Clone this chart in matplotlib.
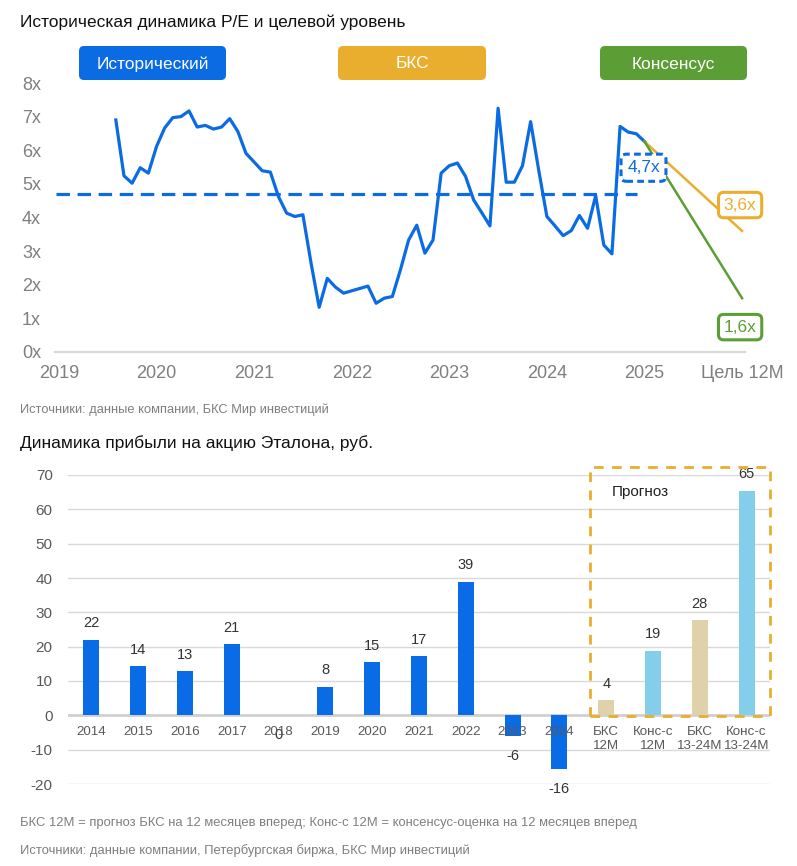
#!/usr/bin/env python3
"""
P/E history + EPS bars for Etalon (two panels, one figure)
"""

import matplotlib.pyplot as plt
import pandas as pd
from matplotlib.patches import FancyBboxPatch, Rectangle

plt.rcParams['font.family'] = ['Liberation Sans', 'DejaVu Sans']
plt.rcParams['axes.unicode_minus'] = False

# --- data: P/E history (monthly, from Aug 2019) ---
pe_start = '2019-08'
pe_values = [6.9, 5.24, 5.02, 5.48, 5.32, 6.11, 6.66, 6.97, 7.0, 7.17, 6.69, 6.74,
             6.63, 6.69, 6.94, 6.56, 5.91, 5.65, 5.39, 5.35, 4.62, 4.13, 4.03, 4.08,
             2.65, 1.33, 2.19, 1.93, 1.75, 1.82, 1.89, 1.96, 1.45, 1.60, 1.65, 2.45,
             3.33, 3.77, 2.94, 3.33, 5.32, 5.54, 5.62, 5.22, 4.52, 4.14, 3.75, 7.25,
             5.05, 5.05, 5.54, 6.85, 5.4, 4.03, 3.75, 3.46, 3.61, 4.06, 3.68, 4.65,
             3.18, 2.92, 6.71, 6.54, 6.49, 6.26]
pe_mean = 4.7
target_bcs = 3.6
target_cons = 1.6
year_ticks = [2019, 2020, 2021, 2022, 2023, 2024, 2025, 2026]
year_labels = ['2019', '2020', '2021', '2022', '2023', '2024', '2025', 'Цель 12M']

# --- data: EPS, rub ---
eps_labels = ['2014', '2015', '2016', '2017', '2018', '2019', '2020', '2021', '2022',
              '2023', '2024', 'БКС\n12М', 'Конс-с\n12М', 'БКС\n13-24М', 'Конс-с\n13-24М']
eps_values = [21.9, 14.3, 12.8, 20.7, 0.0, 8.2, 15.4, 17.2, 38.8, -6.1, -15.7,
              4.4, 18.7, 27.7, 65.3]
eps_kind = ['hist'] * 11 + ['bcs', 'cons', 'bcs', 'cons']

BLUE = '#0B6BE3'
YELLOW = '#EAAE2E'
GREEN = '#5B9E35'
GRAY = '#7F7F7F'
kind_color = {'hist': '#0A6BE6', 'bcs': '#DFD1A9', 'cons': '#84CDEB'}

fig = plt.figure(figsize=(7.97, 8.66), dpi=100)
W, H = 797, 866


def fx(px):
    return px / W


def fy(py):
    return 1 - py / H


# ================= top panel =================
ax1 = fig.add_axes([fx(55), fy(352), fx(745) - fx(55), fy(83) - fy(352)])

dates = pd.date_range(pe_start, periods=len(pe_values), freq='MS')
x_pe = [d.year + (d.month - 1) / 12 for d in dates]

ax1.plot(x_pe, pe_values, color=BLUE, linewidth=2.3, solid_joinstyle='round')
ax1.plot([x_pe[0] - 7 / 12 - 0.03, x_pe[-1] - 0.08], [pe_mean, pe_mean],
         color=BLUE, linewidth=2.3, dashes=(4.2, 2.4))

x_goal = year_ticks[-1]
ax1.plot([x_pe[-1], x_goal], [pe_values[-1], target_bcs], color=YELLOW, linewidth=1.8)
ax1.plot([x_pe[-1], x_goal], [pe_values[-1], target_cons], color=GREEN, linewidth=1.8)

ax1.text(x_pe[-1] - 0.01, 5.48, f'{pe_mean:.1f}x'.replace('.', ','), color=BLUE,
         fontsize=12.5, ha='center', va='center',
         bbox=dict(boxstyle='round,pad=0.35,rounding_size=0.3', fc='white', ec=BLUE,
                   lw=2.2, ls=(0, (2.2, 1.4))))
ax1.text(x_goal - 0.02, 4.37, f'{target_bcs:.1f}x'.replace('.', ','), color=YELLOW,
         fontsize=12.5, ha='center', va='center',
         bbox=dict(boxstyle='round,pad=0.3,rounding_size=0.3', fc='white', ec=YELLOW, lw=2.2))
ax1.text(x_goal - 0.02, 0.74, f'{target_cons:.1f}x'.replace('.', ','), color=GREEN,
         fontsize=12.5, ha='center', va='center',
         bbox=dict(boxstyle='round,pad=0.3,rounding_size=0.3', fc='white', ec=GREEN, lw=2.2))

ax1.set_xlim(2018.96, 2026.03)
ax1.set_ylim(0, 8)
ax1.set_xticks(year_ticks)
ax1.set_xticklabels(year_labels)
ax1.set_yticks(range(0, 9))
ax1.set_yticklabels([f'{v}x' for v in range(0, 9)])
ax1.tick_params(axis='both', length=0, colors=GRAY, labelsize=13)
ax1.tick_params(axis='x', pad=9)
ax1.tick_params(axis='y', pad=10)
for s in ['top', 'right', 'left']:
    ax1.spines[s].set_visible(False)
ax1.spines['bottom'].set_color('#D9D9D9')
ax1.spines['bottom'].set_linewidth(1.6)
ax1.set_facecolor('none')

# legend boxes
for (x0, x1, label, col) in [(79, 226, 'Исторический', BLUE),
                             (338, 486, 'БКС', YELLOW),
                             (600, 747, 'Консенсус', GREEN)]:
    box = FancyBboxPatch((fx(x0), fy(80)), fx(x1) - fx(x0), fy(46) - fy(80),
                         boxstyle='round,pad=0,rounding_size=0.006',
                         transform=fig.transFigure, fc=col, ec='none')
    fig.patches.append(box)
    fig.text(fx((x0 + x1) / 2), fy(64), label, color='white', fontsize=12.5,
             ha='center', va='center')

fig.text(fx(20), fy(22), 'Историческая динамика P/E и целевой уровень',
         fontsize=12.5, ha='left', va='center', color='#111111')
fig.text(fx(20), fy(410), 'Источники: данные компании, БКС Мир инвестиций',
         fontsize=9.3, ha='left', va='center', color=GRAY)

# ================= bottom panel =================
ax2 = fig.add_axes([fx(68), fy(784), fx(770) - fx(68), fy(475) - fy(784)])
pos = list(range(len(eps_values)))
colors = [kind_color[k] for k in eps_kind]
ax2.bar(pos, eps_values, width=0.34, color=colors, zorder=3)

for i, v in enumerate(eps_values):
    txt = f'{v:.0f}'
    if v > 0:
        ax2.annotate(txt, (i, v), xytext=(0, 7), textcoords='offset points',
                     ha='center', va='bottom', fontsize=10.5, color='#333333')
    else:
        ax2.annotate(txt, (i, v), xytext=(0, -9), textcoords='offset points',
                     ha='center', va='top', fontsize=10.5, color='#333333')
    ax2.annotate(eps_labels[i], (i, 0), xytext=(0, -7.5), textcoords='offset points',
                 ha='center', va='top', fontsize=9.6, color='#595959', linespacing=1.2)

ax2.set_xlim(-0.5, len(eps_values) - 0.5)
ax2.set_ylim(-20, 70)
ax2.set_yticks(range(-20, 71, 10))
ax2.set_xticks([])
ax2.tick_params(axis='y', length=0, colors='#595959', labelsize=11, pad=11)
ax2.grid(axis='y', color='#D9D9D9', linewidth=1, zorder=0)
ax2.axhline(0, color='#D0D0D0', linewidth=2, zorder=2)
for s in ax2.spines.values():
    s.set_visible(False)
ax2.set_facecolor('none')

# forecast frame
fig.patches.append(Rectangle((fx(590), fy(716)), fx(770) - fx(590), fy(467) - fy(716),
                             transform=fig.transFigure, fill=False, ec=YELLOW,
                             lw=2, ls=(0, (3.5, 3)), zorder=5))
fig.text(fx(612), fy(492), 'Прогноз', fontsize=11, ha='left', va='center', color='#222222')

fig.text(fx(20), fy(443), 'Динамика прибыли на акцию Эталона, руб.',
         fontsize=12.5, ha='left', va='center', color='#111111')
fig.text(fx(20), fy(823),
         'БКС 12М = прогноз БКС на 12 месяцев вперед; Конс-с 12М = консенсус-оценка на 12 месяцев вперед',
         fontsize=9.4, ha='left', va='center', color=GRAY)
fig.text(fx(20), fy(851), 'Источники: данные компании, Петербургская биржа, БКС Мир инвестиций',
         fontsize=9.4, ha='left', va='center', color=GRAY)

fig.savefig('out.png', dpi=100)
